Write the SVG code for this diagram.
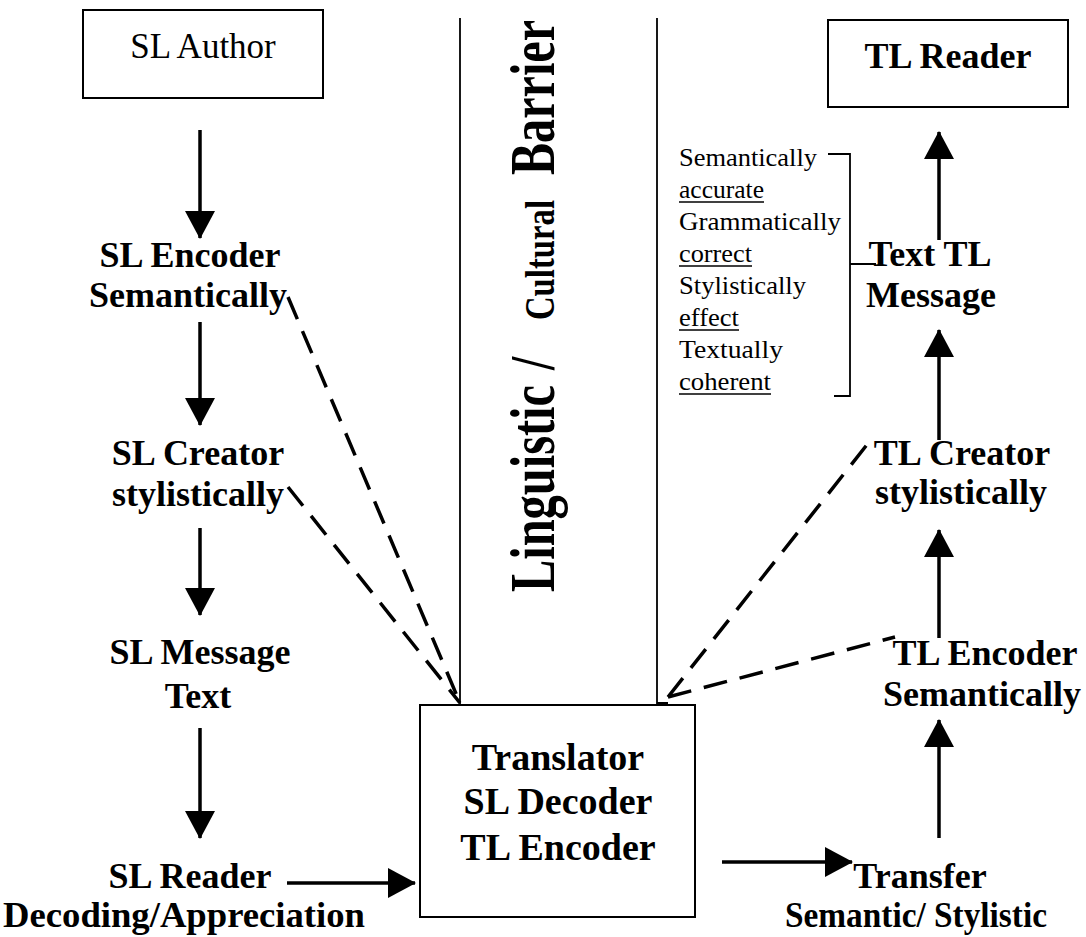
<svg xmlns="http://www.w3.org/2000/svg" width="1086" height="937" viewBox="0 0 1086 937">
<style>
  .b { font-family: "Liberation Serif", "Times New Roman", serif; font-weight: bold; font-size: 36px; fill: #000; text-anchor: middle; }
  .r { font-family: "Liberation Serif", "Times New Roman", serif; font-size: 35px; fill: #000; text-anchor: middle; }
  .l { font-family: "Liberation Serif", "Times New Roman", serif; font-size: 25px; fill: #000; }
  .box { fill: #fff; stroke: #000; stroke-width: 2; }
  .arr { stroke: #000; stroke-width: 3.5; fill: none; marker-end: url(#ah); }
  .dash { stroke: #000; stroke-width: 3.5; fill: none; stroke-dasharray: 24 13; }
  .thin { stroke: #000; stroke-width: 1.8; fill: none; }
  .ul { stroke: #000; stroke-width: 1.5; }
  .bar { font-family: "Liberation Serif", "Times New Roman", serif; font-weight: bold; fill: #000; }
</style>
<defs>
  <marker id="ah" viewBox="0 0 28 30" refX="27" refY="15" markerWidth="28" markerHeight="30" markerUnits="userSpaceOnUse" orient="auto">
    <path d="M0,0 L28,15 L0,30 Z" fill="#000"/>
  </marker>
</defs>
<rect width="1086" height="937" fill="#fff"/>

<g id="barrier">
  <path class="thin" d="M460,18 V704"/>
  <path class="thin" d="M657,18 V703 H668"/>
  <g transform="translate(554,592) rotate(-90) scale(1,1.3)">
    <text class="bar" x="0" y="0" style="font-size:48px" textLength="207" lengthAdjust="spacingAndGlyphs">Linguistic</text>
    <text class="bar" x="222" y="0" style="font-size:48px">/</text>
    <text class="bar" x="272" y="0" style="font-size:32px" textLength="120" lengthAdjust="spacingAndGlyphs">Cultural</text>
    <text class="bar" x="417" y="0" style="font-size:48px" textLength="155" lengthAdjust="spacingAndGlyphs">Barrier</text>
  </g>
</g>

<g id="connectors">
  <line class="arr" x1="200" y1="130" x2="200" y2="238"/>
  <line class="arr" x1="200" y1="322" x2="200" y2="425"/>
  <line class="arr" x1="200" y1="528" x2="200" y2="615"/>
  <line class="arr" x1="200" y1="728" x2="200" y2="838"/>
  <line class="arr" x1="287" y1="883" x2="415" y2="883"/>
  <line class="arr" x1="722" y1="862" x2="852" y2="862"/>
  <line class="arr" x1="939" y1="838" x2="939" y2="720"/>
  <line class="arr" x1="939" y1="638" x2="939" y2="530"/>
  <line class="arr" x1="939" y1="440" x2="939" y2="330"/>
  <line class="arr" x1="939" y1="240" x2="939" y2="132"/>
  <line class="dash" x1="288" y1="297" x2="460" y2="703"/>
  <line class="dash" x1="288" y1="487" x2="460" y2="703"/>
  <line class="dash" x1="668" y1="697" x2="873" y2="437"/>
  <line class="dash" x1="668" y1="697" x2="895" y2="637"/>
</g>

<g id="sl-author">
  <rect class="box" x="83" y="10" width="240" height="88"/>
  <text class="r" x="203" y="58">SL Author</text>
</g>
<g id="sl-encoder">
  <text class="b" x="190" y="267">SL Encoder</text>
  <text class="b" x="188" y="307">Semantically</text>
</g>
<g id="sl-creator">
  <text class="b" x="198" y="465">SL Creator</text>
  <text class="b" x="198" y="506">stylistically</text>
</g>
<g id="sl-message">
  <text class="b" x="200" y="664">SL Message</text>
  <text class="b" x="198" y="708">Text</text>
</g>
<g id="sl-reader">
  <text class="b" x="190" y="888">SL Reader</text>
  <text class="b" x="184" y="927" textLength="362" lengthAdjust="spacingAndGlyphs">Decoding/Appreciation</text>
</g>
<g id="translator">
  <rect class="box" x="420" y="705" width="275" height="212"/>
  <text class="b" x="558" y="770" style="font-size:38px">Translator</text>
  <text class="b" x="558" y="814" style="font-size:38px">SL Decoder</text>
  <text class="b" x="558" y="860" style="font-size:38px">TL Encoder</text>
</g>
<g id="transfer">
  <text class="b" x="920" y="888">Transfer</text>
  <text class="b" x="916" y="927" textLength="262" lengthAdjust="spacingAndGlyphs">Semantic/ Stylistic</text>
</g>
<g id="tl-encoder">
  <text class="b" x="985" y="665">TL Encoder</text>
  <text class="b" x="982" y="706">Semantically</text>
</g>
<g id="tl-creator">
  <text class="b" x="962" y="465">TL Creator</text>
  <text class="b" x="961" y="504">stylistically</text>
</g>
<g id="text-tl-message">
  <text class="b" x="930" y="266">Text TL</text>
  <text class="b" x="931" y="307">Message</text>
</g>
<g id="criteria">
  <text class="l" x="679" y="166" textLength="138" lengthAdjust="spacingAndGlyphs">Semantically</text>
  <text class="l" x="679" y="198" textLength="85" lengthAdjust="spacingAndGlyphs">accurate</text>
  <line class="ul" x1="679" y1="202" x2="764" y2="202"/>
  <text class="l" x="679" y="230" textLength="162" lengthAdjust="spacingAndGlyphs">Grammatically</text>
  <text class="l" x="679" y="262" textLength="73" lengthAdjust="spacingAndGlyphs">correct</text>
  <line class="ul" x1="679" y1="266" x2="752" y2="266"/>
  <text class="l" x="679" y="294" textLength="127" lengthAdjust="spacingAndGlyphs">Stylistically</text>
  <text class="l" x="679" y="326" textLength="60" lengthAdjust="spacingAndGlyphs">effect</text>
  <line class="ul" x1="679" y1="330" x2="739" y2="330"/>
  <text class="l" x="679" y="358" textLength="104" lengthAdjust="spacingAndGlyphs">Textually</text>
  <text class="l" x="679" y="390" textLength="92" lengthAdjust="spacingAndGlyphs">coherent</text>
  <line class="ul" x1="679" y1="394" x2="771" y2="394"/>
  <path class="thin" d="M828,154 H850 V396 H834 M850,264 H876"/>
</g>
<g id="tl-reader">
  <rect class="box" x="828" y="20" width="240" height="87"/>
  <text class="b" x="948" y="68">TL Reader</text>
</g>
</svg>
